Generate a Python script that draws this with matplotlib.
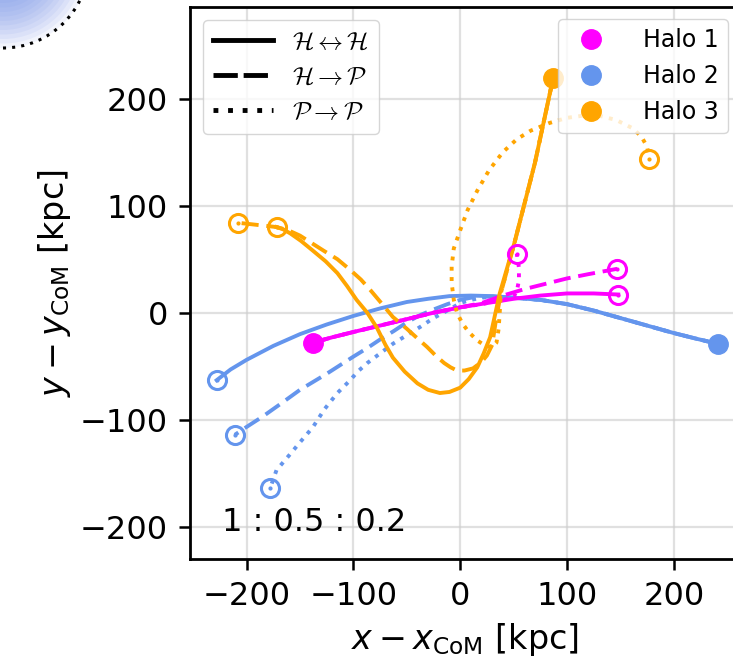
import numpy as np
import matplotlib
matplotlib.use("Agg")
import matplotlib.pyplot as plt
from matplotlib.lines import Line2D
from matplotlib.patches import Circle
from matplotlib.font_manager import FontProperties

# Halo 1 (magenta)
h1_solid_x = [-138, -120, -100, -75, -50, -25, 0, 25, 50, 75, 100, 125, 148]
h1_solid_y = [-28, -23, -18, -12, -6, 0, 5, 9, 13, 16, 18, 18, 17]
h1_dash_x = [-138, -120, -100, -75, -50, -25, 0, 20, 40, 60, 80, 100, 120, 147]
h1_dash_y = [-28, -23, -18, -12, -6, 0, 5, 9, 16, 22, 27, 32, 36, 41]
h1_dot_x = [-138, -120, -100, -75, -50, -25, 0, 20, 35, 45, 50, 53, 55, 55, 53]
h1_dot_y = [-28, -23, -18, -12, -6, 0, 5, 8, 11, 13, 15, 20, 30, 42, 55]

# Halo 2 (blue)
h2_solid_x = [241, 220, 200, 175, 150, 125, 100, 75, 50, 30, 10, -10, -30, -50, -75,
              -100, -125, -150, -175, -200, -215, -228]
h2_solid_y = [-29, -24, -19, -12, -5, 2, 8, 12, 14, 15.5, 16, 15.5, 13, 10, 4,
              -3, -11, -20, -31, -44, -53, -63]
h2_dash_x = [241, 220, 200, 175, 150, 125, 100, 75, 50, 30, 20, 10, 0, -12, -25, -37,
             -50, -62, -75, -87, -100, -125, -150, -168, -185, -199, -211]
h2_dash_y = [-29, -24, -19, -12, -5, 2, 8, 12, 14, 15, 15, 14, 12, 8, 3, -2,
             -9, -17, -25, -33, -41, -57, -72, -85, -97, -106, -114]
h2_dot_x = [241, 220, 200, 175, 150, 125, 100, 75, 50, 30, 20, 10, 0, -12, -25, -37,
            -50, -63, -75, -87, -96, -103, -115, -127, -138, -150, -160, -172, -178]
h2_dot_y = [-29, -24, -19, -12, -5, 2, 8, 12, 14, 15, 14, 12, 9, 2, -5, -13,
            -21, -29, -38, -47, -55, -63, -75, -90, -107, -121, -133, -147, -164]

# Halo 3 (orange)
h3_solid_x = [87, 70, 51, 37, 28, 22, 16, 8, 0, -10, -19, -30, -40, -52, -63, -70,
              -78, -87, -97, -106, -115, -126, -138, -149, -159, -166, -172]
h3_solid_y = [219, 140, 66, 18, -23, -38, -51, -62, -70, -74, -75, -72, -66, -55, -42, -30,
              -14, 0, 12, 25, 37, 48, 58, 67, 74, 78, 80]
h3_dash_x = [87, 70, 51, 38, 33, 30, 25, 20, 12, 4, -3, -9, -15, -23, -31, -40, -50, -57,
             -63, -73, -84, -93, -103, -115, -128, -139, -150, -161, -172, -190, -208]
h3_dash_y = [219, 140, 66, 18, -10, -30, -40, -46, -52, -54, -54, -51, -47, -40, -32, -24, -15, -9,
             -4, 8, 21, 31, 40, 50, 58, 65, 72, 77, 80, 82, 84]
h3_dot_x = [87, 70, 51, 38, 37, 36, 34, 30, 24, 16, 8, 2, -3, -6, -8, -8, -6, 0, 7, 16, 27,
            40, 53, 66, 83, 100, 115, 130, 146, 162, 170, 175, 177]
h3_dot_y = [219, 140, 66, 18, 0, -15, -28, -32, -31, -26, -18, -10, 0, 12, 28, 43, 60, 77, 96, 114, 133,
            150, 162, 170, 177, 182, 184, 184, 180, 172, 164, 155, 144]

halos = [
    ("Halo 2", "#6495ED", (h2_solid_x, h2_solid_y), (h2_dash_x, h2_dash_y), (h2_dot_x, h2_dot_y)),
    ("Halo 1", "#FF00FF", (h1_solid_x, h1_solid_y), (h1_dash_x, h1_dash_y), (h1_dot_x, h1_dot_y)),
    ("Halo 3", "#FFA500", (h3_solid_x, h3_solid_y), (h3_dash_x, h3_dash_y), (h3_dot_x, h3_dot_y)),
]

fig = plt.figure(figsize=(7.33, 6.68), dpi=100)
ax = fig.add_axes([190 / 733, 109 / 668, 550 / 733, 552 / 668])

for name, col, solid, dash, dot in halos:
    for (xs, ys), ls in [(solid, "-"), (dash, (0, (4.4, 2))), (dot, (0, (1, 1.65)))]:
        ax.plot(xs, ys, color=col, ls=ls, lw=2.8, zorder=2)
        ax.plot(xs[-1], ys[-1], marker="o", ms=13, mfc="none", mec=col, mew=2.2, zorder=3)
        ax.plot(xs[-1], ys[-1], marker=".", ms=4, color=col, zorder=3)
    ax.plot(solid[0][0], solid[1][0], marker="o", ms=14, color=col, zorder=4)

ax.text(0.058, 0.05, "1 : 0.5 : 0.2", transform=ax.transAxes, fontsize=23)

ax.set_xlim(-253, 262)
ax.set_ylim(-230, 285.5)
ax.set_xticks([-200, -100, 0, 100, 200])
ax.set_yticks([-200, -100, 0, 100, 200])
ax.tick_params(labelsize=23, length=8, width=1.8, pad=8)
ax.grid(True, color="#cccccc", lw=1.6, alpha=0.6)
ax.set_axisbelow(True)
for sp in ax.spines.values():
    sp.set_linewidth(2)
ax.set_xlabel(r"$x - x_{\rm CoM}$ [kpc]", fontsize=24, labelpad=6)
ax.set_ylabel(r"$y - y_{\rm CoM}$ [kpc]", fontsize=24, labelpad=5)

style_handles = [
    Line2D([], [], color="k", ls="-", lw=3.5),
    Line2D([], [], color="k", ls=(0, (5, 1.2)), lw=3.5),
    Line2D([], [], color="k", ls=(0, (1, 2)), lw=3.5),
]
style_labels = [r"$\mathcal{H}\leftrightarrow\mathcal{H}$",
                r"$\mathcal{H}\rightarrow\mathcal{P}$",
                r"$\mathcal{P}\rightarrow\mathcal{P}$"]
leg1 = ax.legend(style_handles, style_labels, loc="upper left",
                 prop=FontProperties(size=18, math_fontfamily="cm"),
                 handlelength=2.4, labelspacing=0.45, borderaxespad=0.5)
ax.add_artist(leg1)

halo_handles = [
    Line2D([], [], color="#FF00FF", marker="o", ls="none", ms=14),
    Line2D([], [], color="#6495ED", marker="o", ls="none", ms=14),
    Line2D([], [], color="#FFA500", marker="o", ls="none", ms=14),
]
ax.legend(halo_handles, ["Halo 1", "Halo 2", "Halo 3"], loc="upper right",
          fontsize=17, labelspacing=0.5, handletextpad=1.2, borderaxespad=0.5)

# decorative circle peeking in from the top-left corner
for i in range(14):
    r = 0.86 - i * 0.045
    fig.patches.append(Circle((0.03, 7.06), r, transform=fig.dpi_scale_trans,
                              color="#6f8fe8", alpha=0.09, lw=0))
fig.patches.append(Circle((0.03, 7.06), 0.86, transform=fig.dpi_scale_trans,
                          fill=False, ec="k", ls=(0, (1, 2)), lw=2.2))

fig.savefig("out.png", dpi=100)
